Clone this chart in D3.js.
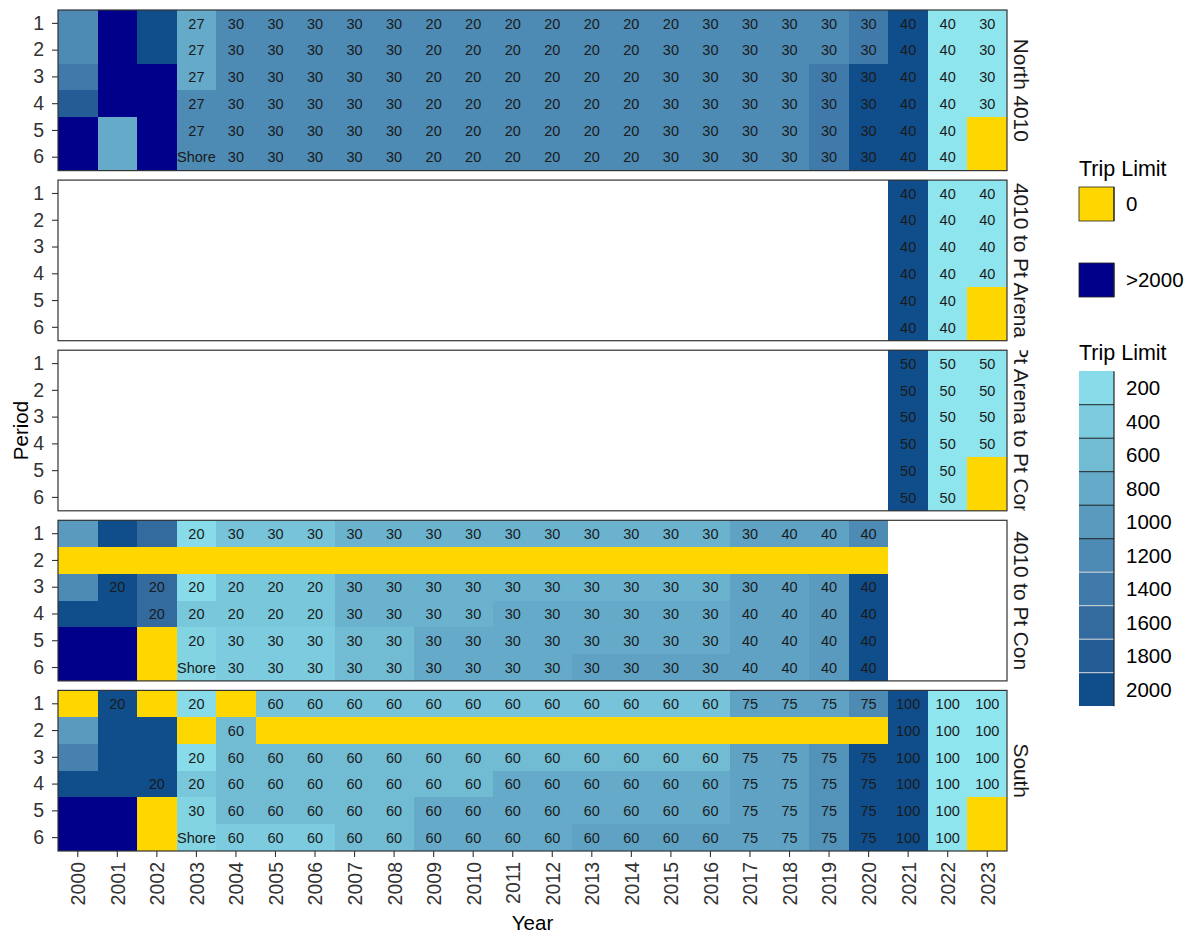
<!DOCTYPE html>
<html>
<head>
<meta charset="utf-8">
<script src="https://cdn.jsdelivr.net/npm/d3@7"></script>
<style>
  body { margin: 0; background: #fff; }
  text { font-family: "Liberation Sans", Arial, sans-serif; }
</style>
</head>
<body>
<svg id="chart" width="1191" height="935"></svg>
<script>
// ---------------- DATA ----------------
const years = ["2000","2001","2002","2003","2004","2005","2006","2007","2008","2009","2010","2011",
               "2012","2013","2014","2015","2016","2017","2018","2019","2020","2021","2022","2023"];
const periods = ["1","2","3","4","5","6"];
const regions = ["North 4010", "4010 to Pt Arena", "Pt Arena to Pt Con", "4010 to Pt Con", "South"];
const legendBreaks = [200, 400, 600, 800, 1000, 1200, 1400, 1600, 1800, 2000];
// values: trip limit (lbs); 0 = closed, 3000 = ">2000" (unrestricted), null = not in area

// North 4010 (rows = periods 1..6; columns = 2000..2023)
const northValues = [
  [1200,3000,2000,800,  1200,1200,1200,1200, 1200,1200,1200,1200, 1200,1200,1200,1200, 1200,1200,1200,1200, 1400,2000,100,100],
  [1200,3000,2000,800,  1200,1200,1200,1200, 1200,1200,1200,1200, 1200,1200,1200,1200, 1200,1200,1200,1200, 1400,2000,100,100],
  [1400,3000,3000,800,  1200,1200,1200,1200, 1200,1200,1200,1200, 1200,1200,1200,1200, 1200,1200,1200,1400, 2000,2000,100,100],
  [1800,3000,3000,1200, 1200,1200,1200,1200, 1200,1200,1200,1200, 1200,1200,1200,1200, 1200,1200,1200,1400, 2000,2000,100,100],
  [3000,800,3000,1200,  1200,1200,1200,1200, 1200,1200,1200,1200, 1200,1200,1200,1200, 1200,1200,1200,1400, 2000,2000,100,0],
  [3000,800,3000,1200,  1200,1200,1200,1200, 1200,1200,1200,1200, 1200,1200,1200,1200, 1200,1200,1200,1400, 2000,2000,100,0]
];
const northLabels = [
  ["","","","27",    "30","30","30","30", "30","20","20","20", "20","20","20","20", "30","30","30","30", "30","40","40","30"],
  ["","","","27",    "30","30","30","30", "30","20","20","20", "20","20","20","30", "30","30","30","30", "30","40","40","30"],
  ["","","","27",    "30","30","30","30", "30","20","20","20", "20","20","20","30", "30","30","30","30", "30","40","40","30"],
  ["","","","27",    "30","30","30","30", "30","20","20","20", "20","20","20","30", "30","30","30","30", "30","40","40","30"],
  ["","","","27",    "30","30","30","30", "30","20","20","20", "20","20","20","30", "30","30","30","30", "30","40","40",""],
  ["","","","Shore", "30","30","30","30", "30","20","20","20", "20","20","20","30", "30","30","30","30", "30","40","40",""]
];

// 4010 to Pt Arena
const arenaValues = [
  [null,null,null,null, null,null,null,null, null,null,null,null, null,null,null,null, null,null,null,null, null,2000,100,100],
  [null,null,null,null, null,null,null,null, null,null,null,null, null,null,null,null, null,null,null,null, null,2000,100,100],
  [null,null,null,null, null,null,null,null, null,null,null,null, null,null,null,null, null,null,null,null, null,2000,100,100],
  [null,null,null,null, null,null,null,null, null,null,null,null, null,null,null,null, null,null,null,null, null,2000,100,100],
  [null,null,null,null, null,null,null,null, null,null,null,null, null,null,null,null, null,null,null,null, null,2000,100,0],
  [null,null,null,null, null,null,null,null, null,null,null,null, null,null,null,null, null,null,null,null, null,2000,100,0]
];
const arenaLabels = [
  ["","","","", "","","","", "","","","", "","","","", "","","","", "","40","40","40"],
  ["","","","", "","","","", "","","","", "","","","", "","","","", "","40","40","40"],
  ["","","","", "","","","", "","","","", "","","","", "","","","", "","40","40","40"],
  ["","","","", "","","","", "","","","", "","","","", "","","","", "","40","40","40"],
  ["","","","", "","","","", "","","","", "","","","", "","","","", "","40","40",""],
  ["","","","", "","","","", "","","","", "","","","", "","","","", "","40","40",""]
];

// Pt Arena to Pt Con
const arenaConValues = [
  [null,null,null,null, null,null,null,null, null,null,null,null, null,null,null,null, null,null,null,null, null,2000,100,100],
  [null,null,null,null, null,null,null,null, null,null,null,null, null,null,null,null, null,null,null,null, null,2000,100,100],
  [null,null,null,null, null,null,null,null, null,null,null,null, null,null,null,null, null,null,null,null, null,2000,100,100],
  [null,null,null,null, null,null,null,null, null,null,null,null, null,null,null,null, null,null,null,null, null,2000,100,100],
  [null,null,null,null, null,null,null,null, null,null,null,null, null,null,null,null, null,null,null,null, null,2000,100,0],
  [null,null,null,null, null,null,null,null, null,null,null,null, null,null,null,null, null,null,null,null, null,2000,100,0]
];
const arenaConLabels = [
  ["","","","", "","","","", "","","","", "","","","", "","","","", "","50","50","50"],
  ["","","","", "","","","", "","","","", "","","","", "","","","", "","50","50","50"],
  ["","","","", "","","","", "","","","", "","","","", "","","","", "","50","50","50"],
  ["","","","", "","","","", "","","","", "","","","", "","","","", "","50","50","50"],
  ["","","","", "","","","", "","","","", "","","","", "","","","", "","50","50",""],
  ["","","","", "","","","", "","","","", "","","","", "","","","", "","50","50",""]
];

// 4010 to Pt Con
const conValues = [
  [1000,2000,1600,200, 500,500,500,700, 700,700,700,700, 700,700,700,700, 700,900,900,900,   1200,null,null,null],
  [0,0,0,0,            0,0,0,0,         0,0,0,0,         0,0,0,0,         0,0,0,0,           0,null,null,null],
  [1200,2000,1600,200, 450,450,450,700, 700,700,700,700, 700,700,700,700, 700,900,900,1000,  2000,null,null,null],
  [2000,2000,1600,450, 450,450,450,700, 700,700,700,800, 800,800,800,800, 800,900,900,1000,  2000,null,null,null],
  [3000,3000,0,300,    400,400,400,600, 600,800,800,800, 800,800,800,800, 800,900,900,1000,  2000,null,null,null],
  [3000,3000,0,300,    400,400,400,600, 600,800,800,800, 800,900,900,900, 900,900,900,1000,  2000,null,null,null]
];
const conLabels = [
  ["","","","20",     "30","30","30","30", "30","30","30","30", "30","30","30","30", "30","30","40","40", "40","","",""],
  ["","","","",       "","","","",         "","","","",         "","","","",         "","","","",         "","","",""],
  ["","20","20","20", "20","20","20","30", "30","30","30","30", "30","30","30","30", "30","30","40","40", "40","","",""],
  ["","","20","20",   "20","20","20","30", "30","30","30","30", "30","30","30","30", "30","40","40","40", "40","","",""],
  ["","","","20",     "30","30","30","30", "30","30","30","30", "30","30","30","30", "30","40","40","40", "40","","",""],
  ["","","","Shore",  "30","30","30","30", "30","30","30","30", "30","30","30","30", "30","40","40","40", "40","","",""]
];

// South
const southValues = [
  [0,2000,0,200,       0,500,500,500,   500,500,500,500, 500,500,500,500, 500,900,900,900,  1200,2000,100,100],
  [1000,2000,2000,0,   600,0,0,0,       0,0,0,0,         0,0,0,0,         0,0,0,0,          0,2000,100,100],
  [1300,2000,2000,200, 600,600,600,600, 600,600,600,600, 600,600,600,600, 600,900,900,1100, 2000,2000,100,100],
  [2000,2000,2000,450, 600,600,600,600, 600,600,600,800, 800,800,800,800, 800,900,900,1100, 2000,2000,100,100],
  [3000,3000,0,300,    600,600,600,600, 600,800,800,800, 800,800,800,800, 800,900,900,1100, 2000,2000,100,0],
  [3000,3000,0,300,    400,400,400,600, 600,800,800,800, 800,900,900,900, 900,900,900,1100, 2000,2000,100,0]
];
const southLabels = [
  ["","20","","20",   "","60","60","60",   "60","60","60","60", "60","60","60","60", "60","75","75","75", "75","100","100","100"],
  ["","","","",       "60","","","",       "","","","",         "","","","",         "","","","",         "","100","100","100"],
  ["","","","20",     "60","60","60","60", "60","60","60","60", "60","60","60","60", "60","75","75","75", "75","100","100","100"],
  ["","","20","20",   "60","60","60","60", "60","60","60","60", "60","60","60","60", "60","75","75","75", "75","100","100","100"],
  ["","","","30",     "60","60","60","60", "60","60","60","60", "60","60","60","60", "60","75","75","75", "75","100","100",""],
  ["","","","Shore",  "60","60","60","60", "60","60","60","60", "60","60","60","60", "60","75","75","75", "75","100","100",""]
];

// ---------------- CHART ----------------
const panelsData = [
  { name: regions[0], values: northValues,    labels: northLabels },
  { name: regions[1], values: arenaValues,    labels: arenaLabels },
  { name: regions[2], values: arenaConValues, labels: arenaConLabels },
  { name: regions[3], values: conValues,      labels: conLabels },
  { name: regions[4], values: southValues,    labels: southLabels }
];

const ZERO_COL = "#FFD700", OVER_COL = "#00008B";
const color = d3.scaleLinear().domain([100, 2000]).range(["#8EE5EE", "#104E8B"]).interpolate(d3.interpolateLab);
function fillFor(v) {
  if (v === 0) return ZERO_COL;
  if (v > 2000) return OVER_COL;
  return color(v);
}

const L = 58, R = 1007, T = 10, B = 851, GAP = 9.5;
const PH = (B - T - GAP * 4) / 5;
const TXT = "#333";
const FONT = '"Liberation Sans", Arial, sans-serif';

const svg = d3.select("#chart");
const x = d3.scaleBand().domain(years).range([L, R]).padding(0);
const defs = svg.append("defs");

panelsData.forEach((p, i) => {
  const top = T + i * (PH + GAP);
  const y = d3.scaleBand().domain(periods).range([top, top + PH]).padding(0);
  const g = svg.append("g").attr("class", "panel");

  const cells = [];
  p.values.forEach((row, r) => row.forEach((v, c) => {
    if (v !== null) cells.push({ year: years[c], period: periods[r], v: v, label: p.labels[r][c] });
  }));

  g.append("g").attr("shape-rendering", "crispEdges")
    .selectAll("rect").data(cells).join("rect")
    .attr("x", d => x(d.year))
    .attr("y", d => y(d.period))
    .attr("width", x.bandwidth())
    .attr("height", y.bandwidth())
    .attr("fill", d => fillFor(d.v));

  g.append("g").selectAll("text").data(cells.filter(d => d.label !== "")).join("text")
    .attr("x", d => x(d.year) + x.bandwidth() / 2)
    .attr("y", d => y(d.period) + y.bandwidth() / 2)
    .attr("dy", "0.36em")
    .attr("text-anchor", "middle")
    .attr("font-size", 14.5)
    .attr("fill", "#1a1a1a")
    .text(d => d.label);

  // panel border
  g.append("rect")
    .attr("x", L).attr("y", top).attr("width", R - L).attr("height", PH)
    .attr("fill", "none").attr("stroke", "#333").attr("stroke-width", 1.2);

  // y axis
  const ya = g.append("g").attr("transform", `translate(${L},0)`)
    .call(d3.axisLeft(y).tickSize(6).tickPadding(8));
  ya.select(".domain").remove();
  ya.selectAll(".tick line").attr("stroke", "#333").attr("stroke-width", 1.1);
  ya.selectAll(".tick text").attr("font-size", 19.5).attr("fill", TXT).style("font-family", FONT);

  // strip label (clipped to strip)
  const cid = "strip" + i;
  defs.append("clipPath").attr("id", cid).append("rect")
    .attr("x", R + 1).attr("y", top).attr("width", 32).attr("height", PH);
  g.append("g").attr("clip-path", `url(#${cid})`)
    .append("text")
    .attr("transform", `translate(${R + 14},${top + PH / 2}) rotate(90)`)
    .attr("text-anchor", "middle")
    .attr("dy", "0.35em")
    .attr("font-size", 20.8)
    .attr("fill", "#1a1a1a")
    .text(p.name);

  if (i === panelsData.length - 1) {
    const xa = g.append("g").attr("transform", `translate(0,${top + PH})`)
      .call(d3.axisBottom(x).tickSize(6).tickPadding(5));
    xa.select(".domain").remove();
    xa.selectAll(".tick line").attr("stroke", "#333").attr("stroke-width", 1.1);
    xa.selectAll(".tick text")
      .attr("font-size", 19.5).attr("fill", TXT).style("font-family", FONT)
      .attr("transform", "rotate(-90)")
      .attr("text-anchor", "end")
      .attr("x", -11).attr("y", 0).attr("dy", "0.38em");
  }
});

// axis titles
svg.append("text")
  .attr("x", (L + R) / 2).attr("y", 929.5)
  .attr("text-anchor", "middle").attr("font-size", 20.5).attr("fill", "#000")
  .text("Year");
svg.append("text")
  .attr("transform", `translate(21,${(T + B) / 2}) rotate(-90)`)
  .attr("text-anchor", "middle").attr("dy", "0.35em")
  .attr("font-size", 20.5).attr("fill", "#000")
  .text("Period");

// ---------------- LEGENDS ----------------
const LX = 1079, KW = 35, LBX = 1126;
const lg = svg.append("g");

function keyOutline(y0, h) {
  lg.append("line").attr("x1", LX + KW).attr("x2", LX + KW).attr("y1", y0).attr("y2", y0 + h)
    .attr("stroke", "#222").attr("stroke-width", 1.2);
}

lg.append("text").attr("x", LX).attr("y", 175.5).attr("font-size", 21.5).attr("fill", "#000").text("Trip Limit");
const specialKeys = [
  { label: "0", fill: ZERO_COL, y: 187 },
  { label: ">2000", fill: OVER_COL, y: 263 }
];
specialKeys.forEach(k => {
  lg.append("rect").attr("x", LX).attr("y", k.y).attr("width", KW).attr("height", 34)
    .attr("fill", k.fill).attr("stroke", "#222").attr("stroke-width", 0.8);
  keyOutline(k.y, 34);
  lg.append("text").attr("x", LBX).attr("y", k.y + 17).attr("dy", "0.36em")
    .attr("font-size", 20.5).attr("fill", "#000").text(k.label);
});

lg.append("text").attr("x", LX).attr("y", 359.5).attr("font-size", 21.5).attr("fill", "#000").text("Trip Limit");
const KT = 371.2, KH = 33.5;
const ky = d3.scaleBand().domain(legendBreaks).range([KT, KT + KH * legendBreaks.length]);
lg.append("g").attr("shape-rendering", "crispEdges")
  .selectAll("rect").data(legendBreaks).join("rect")
  .attr("x", LX).attr("y", d => ky(d)).attr("width", KW).attr("height", ky.bandwidth())
  .attr("fill", d => color(d));
// separators between keys
lg.append("g").selectAll("line").data(legendBreaks.slice(1)).join("line")
  .attr("x1", LX).attr("x2", LX + KW)
  .attr("y1", d => ky(d)).attr("y2", d => ky(d))
  .attr("stroke", (d, i) => i >= 5 ? "#ddd" : "#222")
  .attr("stroke-width", 1);
keyOutline(KT, KH * legendBreaks.length);
lg.append("g").selectAll("text").data(legendBreaks).join("text")
  .attr("x", LBX).attr("y", d => ky(d) + ky.bandwidth() / 2).attr("dy", "0.36em")
  .attr("font-size", 20.5).attr("fill", "#000").text(d => d);
</script>
</body>
</html>
